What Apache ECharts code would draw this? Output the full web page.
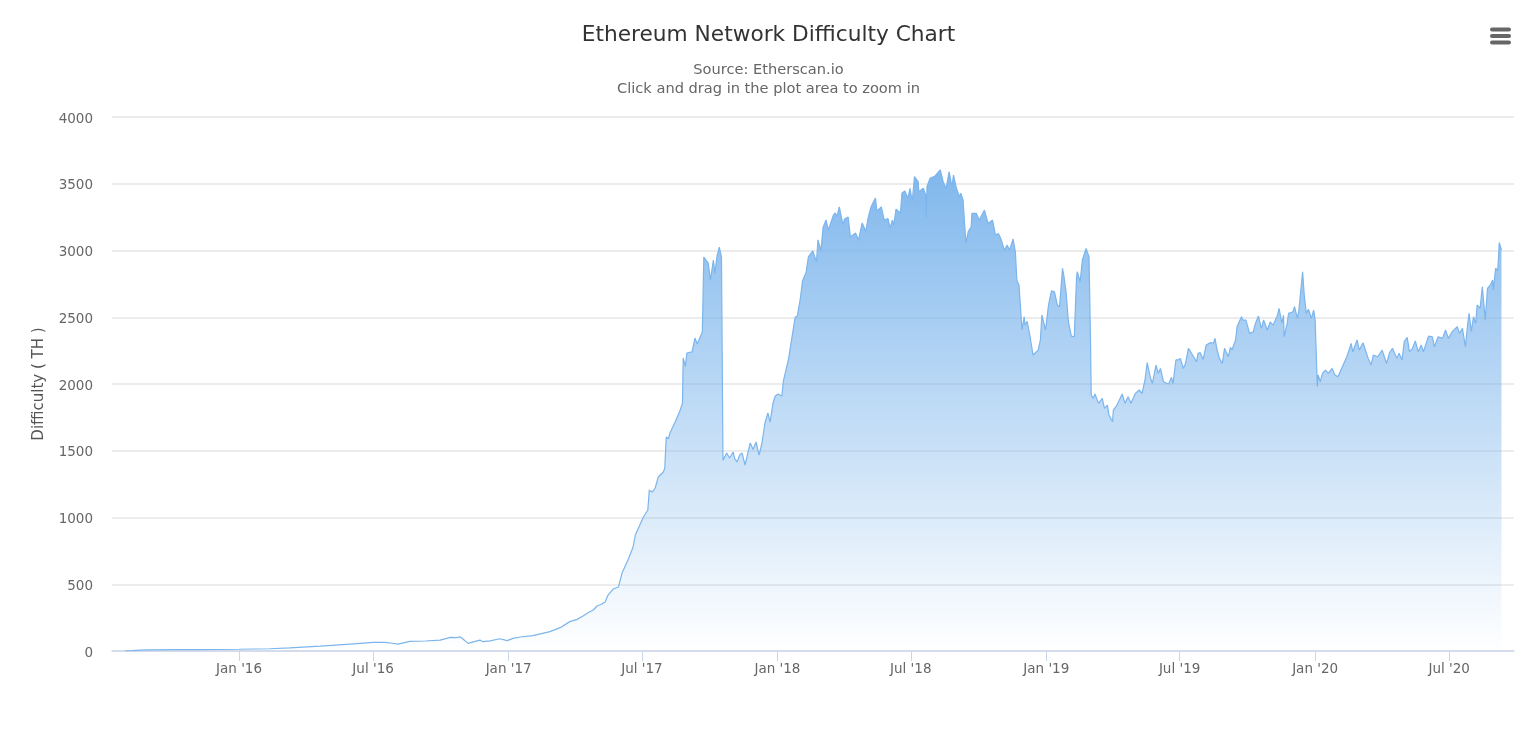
<!DOCTYPE html>
<html>
<head>
<meta charset="utf-8">
<title>Ethereum Network Difficulty Chart</title>
<script src="https://cdn.jsdelivr.net/npm/echarts@6/dist/echarts.min.js"></script>
<style>
  html, body { margin: 0; padding: 0; background: #fff; }
  #chart { width: 1537px; height: 733px; }
</style>
</head>
<body>
<div id="chart"></div>
<script>
// days counted from 1 Jan 2016
const dayOffsets = [
  -155, -145, -134, -121, -87, -53, 0, 42, 69, 110, 151, 182, 198, 208, 216, 232, 253, 273, 287, 295,
  300, 306, 311, 318, 327, 331, 341, 354, 364, 372, 382, 399, 422, 436, 449, 459, 467, 475, 481,
  486, 492, 497, 501, 508, 515, 520, 528, 535, 538, 549, 555, 557, 561, 565, 569, 576, 578, 580, 583,
  585, 592, 599, 602, 603, 606, 608, 615, 619, 622, 629, 630, 631, 637, 640, 644, 646, 649, 652, 655,
  657, 660, 662, 666, 671, 673, 676, 680, 683, 687, 688, 694, 698, 702, 706, 710, 714, 718, 721, 725,
  728, 732, 737, 739, 746, 751, 755, 758, 762, 765, 770, 773, 779, 784, 786, 790, 793, 797, 800, 807,
  809, 812, 815, 820, 822, 827, 830, 837, 841, 846, 851, 854, 858, 864, 866, 872, 876, 881, 884, 887,
  889, 892, 898, 900, 904, 908, 911, 914, 917, 922, 923, 929, 932, 933, 934, 938, 945, 952, 956, 960,
  964, 968, 970, 974, 978, 980, 983, 985, 987, 990, 994, 995, 1001, 1005, 1012, 1017, 1023, 1027, 1031, 1035,
  1039, 1043, 1046, 1051, 1054, 1056, 1059, 1063, 1066, 1067, 1070, 1074, 1078, 1085, 1088, 1090, 1095, 1099, 1103, 1107,
  1111, 1114, 1118, 1120, 1123, 1126, 1130, 1134, 1137, 1138, 1142, 1145, 1150, 1154, 1156, 1157, 1160, 1162, 1167, 1172,
  1175, 1179, 1181, 1186, 1187, 1192, 1199, 1203, 1207, 1211, 1217, 1222, 1226, 1230, 1233, 1237, 1240, 1245, 1248, 1251,
  1255, 1262, 1266, 1268, 1272, 1275, 1278, 1282, 1285, 1289, 1291, 1296, 1300, 1302, 1305, 1309, 1313, 1319, 1323, 1325,
  1328, 1331, 1335, 1338, 1343, 1346, 1348, 1353, 1355, 1361, 1363, 1367, 1372, 1377, 1380, 1384, 1388, 1391, 1396, 1400,
  1404, 1410, 1412, 1416, 1418, 1419, 1423, 1425, 1431, 1433, 1437, 1439, 1444, 1446, 1449, 1452, 1456, 1459, 1461, 1464,
  1465, 1468, 1471, 1475, 1479, 1484, 1488, 1492, 1495, 1499, 1504, 1510, 1512, 1518, 1521, 1526, 1533, 1537, 1540, 1546,
  1552, 1558, 1562, 1566, 1572, 1575, 1579, 1582, 1586, 1589, 1593, 1597, 1601, 1605, 1608, 1615, 1620, 1623, 1628, 1634,
  1638, 1642, 1647, 1654, 1657, 1661, 1665, 1668, 1670, 1673, 1676, 1679, 1681, 1685, 1688, 1692, 1695, 1699, 1702, 1703,
  1706, 1709, 1711, 1714
];

const difficulty = [
  0, 3, 7, 9, 10, 11, 13, 17, 24, 37, 52, 64, 65, 58, 52, 72, 75, 82, 102, 100,
  107, 80, 57, 68, 82, 70, 76, 92, 78, 95, 105, 115, 145, 175, 220, 237, 262, 290, 307,
  337, 350, 367, 419, 464, 479, 584, 681, 779, 869, 1004, 1056, 1206, 1190, 1221, 1303, 1341, 1370, 1603, 1590,
  1633, 1715, 1805, 1857, 2195, 2130, 2232, 2240, 2344, 2300, 2389, 2400, 2951, 2906, 2779, 2929, 2830, 2960, 3026, 2951,
  1430, 1460, 1483, 1446, 1490, 1440, 1416, 1470, 1483, 1393, 1393, 1558, 1510, 1565, 1468, 1558, 1708, 1783, 1715, 1858,
  1910, 1925, 1910, 2022, 2187, 2360, 2500, 2510, 2637, 2772, 2840, 2952, 2997, 2915, 3080, 2997, 3175, 3228, 3153, 3266,
  3281, 3260, 3326, 3191, 3236, 3251, 3101, 3131, 3078, 3206, 3145, 3243, 3326, 3393, 3296, 3326, 3228, 3240, 3168, 3228,
  3191, 3310, 3281, 3430, 3445, 3391, 3465, 3365, 3553, 3516, 3441, 3466, 3420, 3241, 3477, 3540, 3558, 3603, 3515, 3466,
  3590, 3477, 3565, 3466, 3403, 3428, 3378, 3203, 3053, 3141, 3178, 3278, 3278, 3228, 3303, 3203, 3228, 3116, 3128, 3078,
  3003, 3040, 3003, 3086, 2990, 2778, 2740, 2404, 2504, 2440, 2470, 2354, 2217, 2254, 2330, 2517, 2404, 2591, 2698, 2691,
  2591, 2579, 2866, 2804, 2679, 2466, 2359, 2354, 2791, 2841, 2766, 2929, 3016, 2954, 2329, 1917, 1892, 1925, 1855, 1892,
  1817, 1842, 1767, 1717, 1804, 1842, 1925, 1855, 1905, 1855, 1930, 1955, 1930, 2030, 2160, 2055, 2005, 2142, 2080, 2117,
  2017, 2000, 2050, 2000, 2180, 2180, 2192, 2117, 2154, 2267, 2274, 2204, 2167, 2229, 2235, 2184, 2292, 2310, 2305, 2342,
  2254, 2192, 2154, 2267, 2204, 2274, 2255, 2329, 2429, 2504, 2479, 2479, 2379, 2392, 2454, 2509, 2417, 2479, 2404, 2465,
  2441, 2516, 2566, 2454, 2515, 2354, 2454, 2529, 2541, 2579, 2491, 2554, 2841, 2679, 2529, 2559, 2491, 2554, 2479, 1979,
  2067, 2017, 2079, 2104, 2079, 2117, 2067, 2054, 2092, 2142, 2204, 2304, 2240, 2329, 2254, 2309, 2192, 2142, 2217, 2204,
  2254, 2154, 2234, 2267, 2192, 2230, 2179, 2317, 2349, 2242, 2265, 2322, 2242, 2292, 2242, 2359, 2354, 2279, 2354, 2342,
  2404, 2342, 2392, 2429, 2379, 2417, 2279, 2442, 2529, 2392, 2504, 2455, 2592, 2567, 2729, 2479, 2717, 2742, 2779, 2704,
  2867, 2850, 3059, 3004
];

const tickDates = ['2016-01-01', '2016-07-01', '2017-01-01', '2017-07-01', '2018-01-01', '2018-07-01', '2019-01-01', '2019-07-01', '2020-01-01', '2020-07-01'];
const tickLabels = ["Jan '16", "Jul '16", "Jan '17", "Jul '17", "Jan '18", "Jul '18", "Jan '19", "Jul '19", "Jan '20", "Jul '20"];

const DAY = 86400000;
const origin = Date.UTC(2016, 0, 1);
const fontFamily = '"DejaVu Sans", sans-serif';
const tickTimes = tickDates.map((d) => Date.parse(d + 'T00:00:00Z'));
const seriesData = dayOffsets.map((d, i) => [origin + d * DAY, difficulty[i]]);

const chart = echarts.init(document.getElementById('chart'), null, { renderer: 'canvas' });

chart.setOption({
  animation: false,
  backgroundColor: '#fff',
  textStyle: { fontFamily: fontFamily },
  title: [
    {
      text: 'Ethereum Network Difficulty Chart',
      left: 'center',
      top: 19,
      textStyle: { fontFamily: fontFamily, fontSize: 21.7, fontWeight: 'normal', color: '#333333' },
    },
    {
      text: 'Source: Etherscan.io\nClick and drag in the plot area to zoom in',
      left: 'center',
      top: 56,
      textStyle: { fontFamily: fontFamily, fontSize: 14.6, fontWeight: 'normal', color: '#666666', lineHeight: 19 },
    },
  ],
  grid: { left: 112, right: 23, top: 117, bottom: 82 },
  xAxis: {
    // plain numeric axis on timestamps, the half-year ticks are given below
    type: 'value',
    min: origin - 172.5 * DAY,
    max: origin + 1731 * DAY,
    axisLine: { lineStyle: { color: '#ccd6eb', width: 1.5 } },
    axisTick: { length: 10, customValues: tickTimes, lineStyle: { color: '#ccd6eb' } },
    axisLabel: {
      customValues: tickTimes,
      color: '#666666',
      fontSize: 13.5,
      margin: 11,
      showMinLabel: true,
      showMaxLabel: true,
      formatter: (value) => tickLabels[tickTimes.indexOf(value)],
    },
    splitLine: { show: false },
  },
  yAxis: {
    type: 'value',
    min: 0,
    max: 4000,
    interval: 500,
    name: 'Difficulty ( TH )',
    nameLocation: 'middle',
    nameGap: 65,
    nameTextStyle: { color: '#555555', fontSize: 15 },
    axisLine: { show: false },
    axisTick: { show: false },
    axisLabel: {
      margin: 19,
      // rich box so the numbers sit a little under their gridline
      formatter: (value) => '{tick|' + value + '}',
      rich: {
        tick: { color: '#666666', fontSize: 13.5, padding: [4, 0, 0, 0] },
      },
    },
    splitLine: { lineStyle: { color: '#ececec', width: 2 } },
  },
  series: [
    {
      name: 'Difficulty',
      type: 'line',
      data: seriesData,
      showSymbol: false,
      sampling: false,
      lineStyle: { color: '#7cb5ec', width: 1.2 },
      itemStyle: { color: '#7cb5ec' },
      areaStyle: {
        opacity: 1,
        color: new echarts.graphic.LinearGradient(0, 0, 0, 1, [
          { offset: 0, color: 'rgba(124,181,236,0.97)' },
          { offset: 1, color: 'rgba(124,181,236,0)' },
        ]),
      },
    },
  ],
  // export menu icon in the corner
  graphic: [27.5, 34, 40.5].map((y) => ({
    type: 'rect',
    shape: { x: 1490, y: y, width: 21, height: 4, r: 2 },
    style: { fill: '#666666' },
  })),
});
</script>
</body>
</html>
